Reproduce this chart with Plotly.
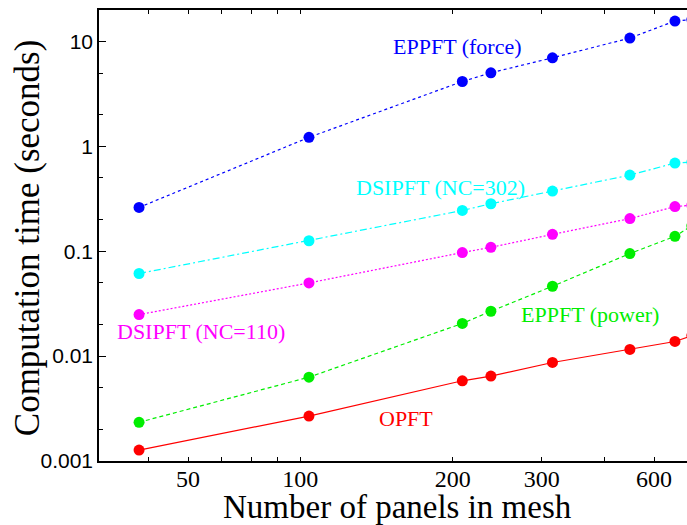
import math
import plotly.graph_objects as go

# Mesh sizes (number of panels)
panels = [48, 104, 209, 238, 315, 448, 550, 594]

# Computation times (seconds)
opft = [0.00127, 0.00268, 0.00582, 0.00646, 0.0087, 0.0116, 0.0138, 0.0157]
eppft_power = [0.00234, 0.0063, 0.0205, 0.0268, 0.0464, 0.0951, 0.139, 0.175]
dsipft_110 = [0.0249, 0.0499, 0.0973, 0.109, 0.145, 0.205, 0.267, 0.275]
dsipft_302 = [0.0614, 0.126, 0.245, 0.284, 0.375, 0.533, 0.694, 0.71]
eppft_force = [0.262, 1.22, 4.16, 5.04, 7.0, 10.8, 15.7, 16.2]

series_names = ["OPFT", "EPPFT (power)", "DSIPFT (NC=110)", "DSIPFT (NC=302)", "EPPFT (force)"]
series_values = [opft, eppft_power, dsipft_110, dsipft_302, eppft_force]
series_colors = ["#ff0000", "#00ee00", "#ff00ff", "#00ffff", "#0000ff"]
series_dash = ["solid", "4px,3px", "2px,2px", "7px,3px,2px,3px", "3px,3px"]

# label positions (data coords) for the in-plot series labels
label_x = [162, 373, 63.5, 189, 204]
label_y = [0.00257, 0.0247, 0.0173, 0.41, 9.05]

xtick_vals = [60, 100, 200, 300, 500]
xtick_text = ["50", "100", "200", "300", "600"]
xminor_vals = [50, 70, 80, 90, 400]
ytick_vals = [0.001, 0.01, 0.1, 1, 10]
ytick_text = ["0.001", "0.01", "0.1", "1", "10"]
yminor_vals = [0.002, 0.005, 0.02, 0.05, 0.2, 0.5, 2, 5, 20]

fig = go.Figure()
for name, vals, col, dash in zip(series_names, series_values, series_colors, series_dash):
    fig.add_trace(go.Scatter(
        x=panels, y=vals, mode="lines+markers", name=name,
        line=dict(color=col, width=1.2, dash=dash),
        marker=dict(color=col, size=11, symbol="circle"),
        cliponaxis=True, showlegend=False,
    ))

serif = "Liberation Serif"
for name, col, lx, ly in zip(series_names, series_colors, label_x, label_y):
    fig.add_annotation(
        x=math.log10(lx), y=math.log10(ly), xref="x", yref="y",
        text=name, showarrow=False, xanchor="center", yanchor="middle",
        font=dict(family=serif, size=22, color=col),
    )

fig.add_annotation(
    xref="paper", yref="paper", x=0.507, y=-0.102, text="Number of panels in mesh",
    showarrow=False, xanchor="center", yanchor="middle",
    font=dict(family=serif, size=33, color="black"),
)
fig.add_annotation(
    xref="paper", yref="paper", x=0, xshift=-72, y=0.494, text="Computation time (seconds)",
    showarrow=False, xanchor="center", yanchor="middle", textangle=-90,
    font=dict(family=serif, size=35, color="black"),
)

# longer major tick at 100 (bottom and top)
for y0, y1 in [(0, 0.015), (1, 0.985)]:
    fig.add_shape(type="line", xref="x", yref="paper", x0=2, x1=2, y0=y0, y1=y1,
                  line=dict(color="black", width=1))

fig.update_xaxes(
    type="log", range=[math.log10(40), math.log10(581)],
    tickmode="array", tickvals=xtick_vals, ticktext=xtick_text,
    ticks="inside", ticklen=4, tickcolor="black", tickwidth=1,
    minor=dict(tickmode="array", tickvals=xminor_vals, ticks="inside", ticklen=4, tickcolor="black"),
    showline=True, linecolor="black", linewidth=1.5, mirror="allticks",
    showgrid=False, zeroline=False, automargin=False, ticklabelstandoff=-5,
    tickfont=dict(family=serif, size=24, color="black"),
)
fig.update_yaxes(
    type="log", range=[-3, math.log10(20)],
    tickmode="array", tickvals=ytick_vals, ticktext=ytick_text,
    ticks="inside", ticklen=7, tickcolor="black", tickwidth=1,
    minor=dict(tickmode="array", tickvals=yminor_vals, ticks="inside", ticklen=4, tickcolor="black"),
    showline=True, linecolor="black", linewidth=1.5, mirror=False,
    showgrid=False, zeroline=False, automargin=False,
    tickfont=dict(family="Liberation Sans", size=21, color="black"),
)

fig.update_layout(
    width=687, height=525,
    margin=dict(l=99, r=0, t=10, b=64),
    plot_bgcolor="white", paper_bgcolor="white",
    showlegend=False,
)

fig.write_html("out.html", config={"displayModeBar": False},
               post_script="document.body.style.margin='0px';")
